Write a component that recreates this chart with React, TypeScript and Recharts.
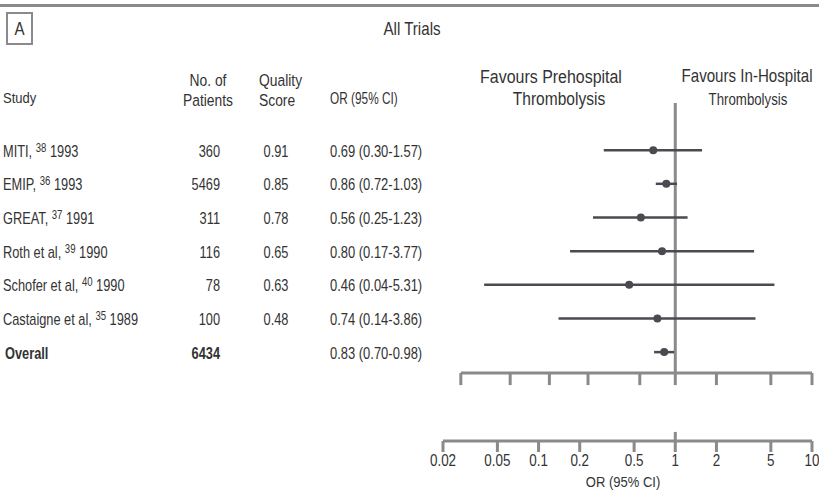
import React from "react";
import {
  ComposedChart,
  Scatter,
  ErrorBar,
  XAxis,
  YAxis,
  ReferenceLine,
} from "recharts";

const studies = ["MITI", "EMIP", "GREAT", "Roth et al", "Schofer et al", "Castaigne et al", "Overall"];
const refs = ["38", "36", "37", "39", "40", "35", ""];
const years = ["1993", "1993", "1991", "1990", "1990", "1989", ""];
const patients = [360, 5469, 311, 116, 78, 100, 6434];
const quality = ["0.91", "0.85", "0.78", "0.65", "0.63", "0.48", ""];
const oddsRatio = [0.69, 0.86, 0.56, 0.8, 0.46, 0.74, 0.83];
const ciLow = [0.3, 0.72, 0.25, 0.17, 0.04, 0.14, 0.7];
const ciHigh = [1.57, 1.03, 1.23, 3.77, 5.31, 3.86, 0.98];

const orTicks = [0.02, 0.05, 0.1, 0.2, 0.5, 1, 2, 5, 10];
// the upper (unlabelled) scale in the figure is drawn a little off the lower one
const upperTicks = [0.027, 0.062, 0.12, 0.23, 0.55, 1, 2, 5, 10];

// row coordinates of the plot frame (rows 0..6 are the studies)
const ROW_TOP = -1.4;
const ROW_BOTTOM = 8.64;
const UPPER_AXIS_ROW = 6.62;
const UPPER_TICK_ROW = 6.98;
const ONE_TICK_ROW = 8.37;

const FONT = "'Liberation Sans', Arial, sans-serif";
const TEXT = "#333";
const GRAY = "#8a8a8c";
const MARK = "#4a4a50";

const rows = studies.map((s, i) => ({
  row: i,
  or: oddsRatio[i],
  err: [oddsRatio[i] - ciLow[i], ciHigh[i] - oddsRatio[i]],
}));

const fmt = (v: number) => v.toFixed(2);

// condensed text: Liberation Sans squeezed horizontally, like Arial Narrow
function NText({ x, y, size, sx = 0.84, anchor = "start", bold = false, children }: any) {
  return (
    <text
      transform={`translate(${x},${y}) scale(${sx},1)`}
      dy="0.35em"
      fontFamily={FONT}
      fontSize={size}
      fontWeight={bold ? "bold" : "normal"}
      fill={TEXT}
      textAnchor={anchor}
    >
      {children}
    </text>
  );
}

function RowTick(props: any) {
  const i = props.payload.value as number;
  const y = props.y + 1;
  const bold = studies[i] === "Overall";
  return (
    <g>
      <NText x={bold ? 5 : 3} y={y} size={16} sx={0.8} bold={bold}>
        {refs[i] ? (
          <>
            <tspan>{studies[i] + ", "}</tspan>
            <tspan fontSize={12} dy={-5}>{refs[i]}</tspan>
            <tspan dy={5}>{" " + years[i]}</tspan>
          </>
        ) : (
          studies[i]
        )}
      </NText>
      <NText x={220} y={y} size={16} sx={0.8} anchor="end" bold={bold}>
        {patients[i]}
      </NText>
      <NText x={276} y={y} size={16} sx={0.8} anchor="middle">
        {quality[i]}
      </NText>
      <NText x={330} y={y} size={16} sx={0.81}>
        {`${fmt(oddsRatio[i])} (${fmt(ciLow[i])}-${fmt(ciHigh[i])})`}
      </NText>
    </g>
  );
}

function OrTick(props: any) {
  const { x, y, payload } = props;
  return (
    <NText x={x} y={y + 6} size={16} anchor="middle">
      {payload.value}
    </NText>
  );
}

export default function App() {
  return (
    <div style={{ position: "absolute", left: 0, top: 0, width: 819, height: 492, background: "#fff" }}>
      <svg width={819} height={492} style={{ position: "absolute", left: 0, top: 0 }}>
        <rect x={0} y={4} width={819} height={3} fill={GRAY} />
        <rect x={7} y={13} width={25} height={31} fill="none" stroke={GRAY} strokeWidth={2} />
        <NText x={19.5} y={29} size={18} anchor="middle">A</NText>
        <NText x={412} y={29} size={18} anchor="middle">All Trials</NText>
        <NText x={3} y={98} size={15.5}>Study</NText>
        <NText x={208} y={80} size={16.5} anchor="middle">No. of</NText>
        <NText x={208} y={100} size={16.5} anchor="middle">Patients</NText>
        <NText x={259} y={80} size={16.5}>Quality</NText>
        <NText x={259} y={100} size={16.5}>Score</NText>
        <NText x={330} y={98} size={16} sx={0.74}>OR (95% CI)</NText>
        <NText x={551} y={76} size={19} anchor="middle">Favours Prehospital</NText>
        <NText x={559} y={99} size={18.5} anchor="middle">Thrombolysis</NText>
        <NText x={747} y={76} size={18} anchor="middle">Favours In-Hospital</NText>
        <NText x={748} y={99} size={17} sx={0.78} anchor="middle">Thrombolysis</NText>
        <NText x={623} y={482} size={15.5} anchor="middle">OR (95% CI)</NText>
      </svg>

      <ComposedChart
        width={819}
        height={492}
        data={rows}
        margin={{ top: 103, right: 7, bottom: 0, left: 442 }}
        style={{ position: "absolute", left: 0, top: 0 }}
      >
        <XAxis
          xAxisId="or"
          dataKey="or"
          type="number"
          scale="log"
          domain={[0.02, 10]}
          allowDataOverflow
          ticks={orTicks}
          interval={0}
          height={51}
          axisLine={{ stroke: GRAY, strokeWidth: 3 }}
          tickSize={11}
          tickMargin={2}
          tickLine={{ stroke: GRAY, strokeWidth: 3 }}
          tick={<OrTick />}
        />
        <YAxis
          yAxisId="rows"
          dataKey="row"
          type="number"
          reversed
          domain={[ROW_TOP, ROW_BOTTOM]}
          ticks={[0, 1, 2, 3, 4, 5, 6]}
          interval={0}
          width={1}
          axisLine={false}
          tickLine={false}
          tick={<RowTick />}
        />
        <ReferenceLine
          xAxisId="or"
          yAxisId="rows"
          segment={[
            { x: 1, y: ROW_TOP },
            { x: 1, y: UPPER_AXIS_ROW },
          ]}
          stroke={GRAY}
          strokeWidth={3}
          ifOverflow="visible"
        />
        <ReferenceLine
          xAxisId="or"
          yAxisId="rows"
          segment={[
            { x: upperTicks[0], y: UPPER_AXIS_ROW },
            { x: upperTicks[upperTicks.length - 1], y: UPPER_AXIS_ROW },
          ]}
          stroke={GRAY}
          strokeWidth={3}
          ifOverflow="visible"
        />
        {upperTicks.map((t) => (
          <ReferenceLine
            key={t}
            xAxisId="or"
            yAxisId="rows"
            segment={[
              { x: t, y: UPPER_AXIS_ROW },
              { x: t, y: UPPER_TICK_ROW },
            ]}
            stroke={GRAY}
            strokeWidth={3}
            ifOverflow="visible"
          />
        ))}
        <ReferenceLine
          xAxisId="or"
          yAxisId="rows"
          segment={[
            { x: 1, y: ONE_TICK_ROW },
            { x: 1, y: ROW_BOTTOM },
          ]}
          stroke={GRAY}
          strokeWidth={3}
          ifOverflow="visible"
        />
        <Scatter
          xAxisId="or"
          yAxisId="rows"
          dataKey="or"
          fill={MARK}
          isAnimationActive={false}
          shape={(p: any) => <circle cx={p.cx} cy={p.cy} r={4} fill={MARK} />}
        >
          <ErrorBar dataKey="err" direction="x" width={0} stroke={MARK} strokeWidth={2.5} />
        </Scatter>
      </ComposedChart>
    </div>
  );
}
